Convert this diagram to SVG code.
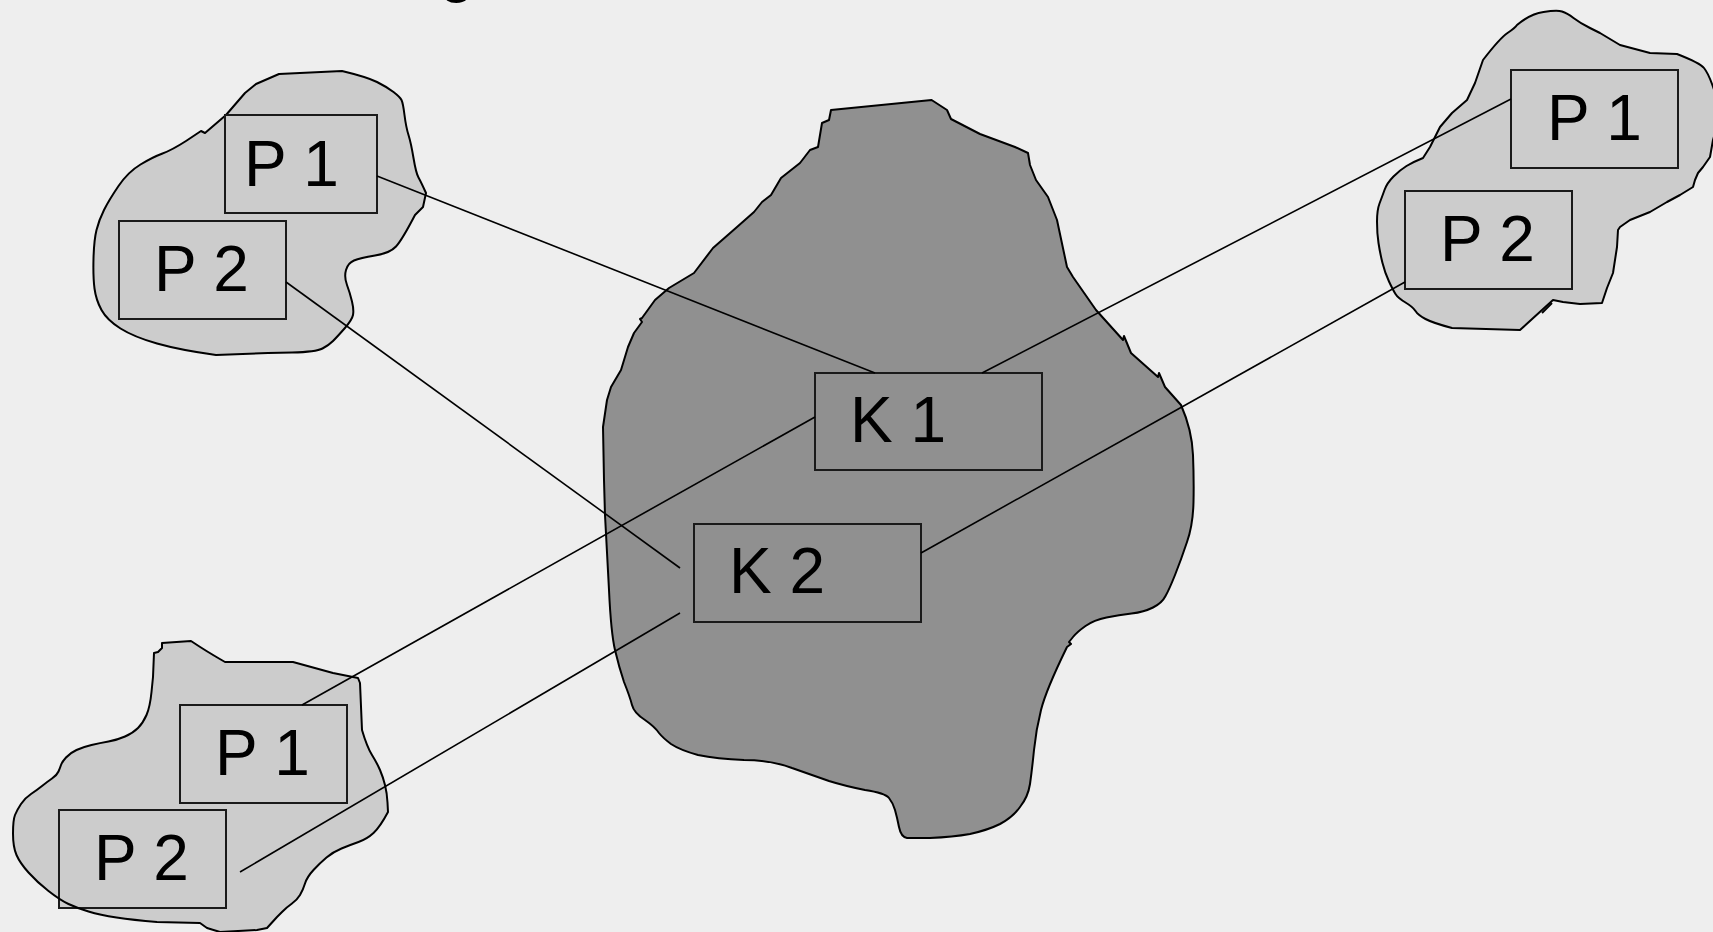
<svg xmlns="http://www.w3.org/2000/svg" xmlns:xlink="http://www.w3.org/1999/xlink" width="1713" height="932" viewBox="0 0 1713 932">
<style>
.bg{fill:#eeeeee}
.light{fill:#cccccc;stroke:none}
.dark{fill:#909090;stroke:none}
.outline{fill:none;stroke:#000;stroke-width:2;stroke-linejoin:round}
.box-l{fill:#cccccc;stroke:#1a1a1a;stroke-width:2}
.box-d{fill:#909090;stroke:#1a1a1a;stroke-width:2}
.lbl{font-family:"Liberation Sans",Arial,sans-serif;font-size:64px;fill:#000}
.conn line{stroke:#000;stroke-width:1.6}
</style>
<defs>
<path id="blob-c" d="M831,110 L931.6,100 L947,110 L951,119 L980,134 L1015,147 L1028,153 L1030,165 L1036,180 L1048,197 L1057,220 L1067,267 L1073,277 L1096,310 L1123,340 L1124,336 L1131,353 L1158,377 L1159,373 L1165,387 L1181,405 Q1192,430 1193,455 Q1194,480 1193.5,502 Q1193,525 1187,542 Q1181,560 1175,575 Q1169,590 1165.5,596 Q1162,603 1153,607.5 Q1144,612 1131.5,613.5 Q1119,615 1106.5,617.5 Q1094,620 1085.5,626 Q1077,632 1073,637 L1069,642 L1071,644 L1067,647 Q1046,690 1041,710 Q1036,730 1034,750 Q1032,770 1030,784 Q1028,797 1020,807 Q1013,817 1000,824 Q988,830 970,834 Q953,837 930,838 L907,838 Q901,837 899,827 Q897,817 895,810 Q893,803 889,798 Q885,793 865,790 Q845,786 829,781 Q812,775 792,768 Q771,760 744,760 Q717,759 698,755 Q680,750 671,744 Q663,738 659,733 Q655,727 645,720 Q634,713 632,705 Q630,697 624,682 Q619,667 615,650 Q611,633 609,590 Q607,550 605,515 L604,480 L603,427 L607,400 L611,387 L621,370 L628,347 L634,333 L642,322 L640,319 L642,318 L655,300 L669,288 L694,273 L713,248 L737,227 L754,212 L762,202 L771,195 L781,178 L800,163 L810,150 L818,147 L822,123 L829,120 Z"/>
<path id="blob-tl" d="M205,133 L226,115 L245,93 L256,84 L279,74 L342,71 Q367,77 377,82 Q387,87 393.5,92 Q400,97 401.5,100 Q403,103 404.5,115 Q406,127 408.5,135 Q411,143 413.5,158 Q416,173 418.5,177.5 Q421,182 426,193 L423,207 L415,215 Q402,240 396,246.5 Q390,253 375,255.5 Q360,258 354,260.5 Q348,263 346,270 Q344,277 347,285 Q350,293 352,301.5 Q354,310 353,315 Q352,320 344.5,328.5 Q337,337 333,341 Q329,345 322.5,348.5 Q316,352 292,352.5 L268,353 L216,355 Q180,350 157,343.5 Q134,337 120.5,328.5 Q107,320 101.5,310 Q96,300 94.5,288.5 Q93,277 93.5,258.5 Q94,240 96.5,230 Q99,220 104,210 Q109,200 118.5,186 Q128,172 140.5,164.5 Q153,157 162.5,153.5 Q172,150 186,141 L201,131 Z"/>
<path id="blob-tr" d="M1517,25 Q1530,14 1543.5,12 Q1557,10 1562,11.5 Q1567,13 1573.5,18 Q1580,23 1590,28 L1600,33 L1620,45 L1650,53 L1677,54 Q1700,63 1704,68 Q1708,73 1712,84 L1716,95 L1716,130 L1713,140 L1710,157 L1703,167 L1698,173 L1695,180 L1693,187 L1680,195 L1667,202 L1650,212 L1630,220 L1620,227 L1618,230 L1617,247 L1613,273 L1607,288 L1602,303 L1580,304 L1563,302 L1553,300 L1520,330 L1452,328 Q1433,323 1425.5,319 Q1418,315 1415.5,311 Q1413,307 1405.5,302.5 Q1398,298 1395.5,294 Q1393,290 1389,281.5 Q1385,273 1382.5,263 Q1380,253 1378.5,243 Q1377,233 1377,221.5 Q1377,210 1379.5,203.5 Q1382,197 1384.5,190 Q1387,183 1393.5,176.5 Q1400,170 1406.5,166 Q1413,162 1423,158 L1430,147 L1440,127 L1452,113 L1467,100 L1475,83 L1483,60 Q1500,38 1507.5,33 Q1515,28 1517,25 Z"/>
<path id="blob-bl" d="M162,643 L191,641 Q200,647 206.5,651 Q213,655 219,658.5 L225,662 L293,662 L333,673 L358,678 L360,683 L362,730 Q367,747 372,755 Q377,763 380,770 Q383,777 385,785 Q387,793 387.5,802.5 L388,812 Q380,827 373.5,833 Q367,839 358.5,842 Q350,845 341.5,848.5 Q333,852 326.5,857.5 Q320,863 313.5,870 Q307,877 305,883.5 Q303,890 300,895 Q297,900 292,903.5 Q287,907 282,912 L277,917 L267,928 L257,930 L220,932 L207,928 L200,923 L157,922 Q133,920 116.5,917.5 Q100,915 88.5,911.5 Q77,908 68.5,904 Q60,900 48.5,891 Q37,882 28.5,872.5 Q20,863 16.5,855 Q13,847 13,833.5 Q13,820 15,815 Q17,810 21,804 Q25,798 31,794 Q37,790 42,786 Q47,782 52,778.5 Q57,775 58.5,771.5 Q60,768 61,765 Q62,762 66,757.5 Q70,753 76.5,750 Q83,747 91.5,745 Q100,743 108.5,741.5 Q117,740 125,736.5 Q133,733 138,728 Q143,723 146.5,715 Q150,707 151.5,692 L153,677 L154,653 L158,652 L162,648 Z"/>
</defs>
<rect class="bg" x="0" y="0" width="1713" height="932"/>
<text class="lbl" x="439" y="-10" font-size="48">g</text>

<g id="region-center">
<use xlink:href="#blob-c" class="dark"/>
<use xlink:href="#blob-c" class="outline"/>
</g>
<g id="region-tl">
<use xlink:href="#blob-tl" class="light"/>
<use xlink:href="#blob-tl" class="outline"/>
</g>
<g id="region-tr">
<use xlink:href="#blob-tr" class="light"/>
<use xlink:href="#blob-tr" class="outline"/>
<path d="M1542,313 L1552,303" class="outline"/>
</g>
<g id="region-bl">
<use xlink:href="#blob-bl" class="light"/>
</g>

<g id="node-k1"><rect class="box-d" x="815" y="373" width="227" height="97"/><text class="lbl" x="850" y="442">K 1</text></g>
<g id="node-k2"><rect class="box-d" x="694" y="524" width="227" height="98"/><text class="lbl" x="729" y="593">K 2</text></g>
<g id="node-tl-p1"><rect class="box-l" x="225" y="115" width="152" height="98"/><text class="lbl" x="244" y="186">P 1</text></g>
<g id="node-tl-p2"><rect class="box-l" x="119" y="221" width="167" height="98"/><text class="lbl" x="154" y="291">P 2</text></g>
<g id="node-tr-p1"><rect class="box-l" x="1511" y="70" width="167" height="98"/><text class="lbl" x="1547" y="140">P 1</text></g>
<g id="node-tr-p2"><rect class="box-l" x="1405" y="191" width="167" height="98"/><text class="lbl" x="1440" y="261">P 2</text></g>
<g id="node-bl-p1"><rect class="box-l" x="180" y="705" width="167" height="98"/><text class="lbl" x="215" y="775">P 1</text></g>
<g id="node-bl-p2"><rect class="box-l" x="59" y="810" width="167" height="98"/><text class="lbl" x="94" y="880">P 2</text></g>
<use xlink:href="#blob-bl" class="outline"/>

<g id="connectors" class="conn">
<line x1="377" y1="176" x2="875" y2="373"/>
<line x1="286" y1="282" x2="680" y2="568"/>
<line x1="302" y1="705" x2="815" y2="417"/>
<line x1="240" y1="872" x2="680" y2="613"/>
<line x1="982" y1="373" x2="1511" y2="99"/>
<line x1="921" y1="553" x2="1405" y2="282"/>
</g>
</svg>
